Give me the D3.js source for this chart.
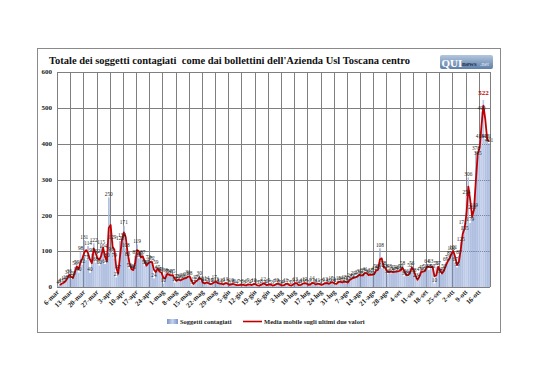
<!DOCTYPE html>
<html><head><meta charset="utf-8">
<script src="https://cdn.jsdelivr.net/npm/d3@7"></script>
<style>
html,body{margin:0;padding:0;background:#fff;}
svg{display:block;}
text{font-family:"Liberation Serif","DejaVu Serif",serif;}
</style></head>
<body>
<svg id="chart" width="538" height="380"></svg>
<script>
// ---- data ----
const titleText = "Totale dei soggetti contagiati  come dai bollettini dell'Azienda Usl Toscana centro";
const startDay = new Date(2020, 2, 6);
const endDay = new Date(2020, 9, 22);
const monthNames = ["gen","feb","mar","apr","mag","giu","lug","ago","set","ott","nov","dic"];
const days = d3.timeDay.range(startDay, endDay);
const categories = days.map(d => d.getDate() + "-" + monthNames[d.getMonth()]);
const tickLabels = ["6-mar","13-mar","20-mar","27-mar","3-apr","10-apr","17-apr","24-apr","1-mag","8-mag","15-mag","22-mag","29-mag","5-giu","12-giu","19-giu","26-giu","3-lug","10-lug","17-lug","24-lug","31-lug","7-ago","14-ago","21-ago","28-ago","4-set","11-set","18-set","25-set","2-ott","9-ott","16-ott"];
const yTicks = [0,100,200,300,400,500,600];
const contagiati = [
  4, 8, 10, 14, 18, 31, 36,
  22, 28, 56, 59, 40, 98, 62,
  131, 75, 114, 40, 93, 122, 68,
  92, 60, 115, 104, 64, 80, 250,
  96, 129, 79, 27, 47, 128, 134,
  171, 108, 83, 51, 49, 45, 87,
  119, 80, 85, 87, 59, 60, 73,
  67, 72, 24, 59, 45, 40, 41,
  10, 38, 35, 34, 31, 35, 12,
  22, 20, 17, 25, 22, 27, 31,
  28, 5, 12, 17, 19, 30, 16,
  8, 12, 14, 6, 10, 9, 17,
  13, 8, 11, 6, 9, 13, 7,
  5, 10, 8, 6, 4, 7, 5,
  8, 3, 6, 9, 4, 7, 10,
  6, 3, 5, 8, 12, 4, 6,
  9, 5, 3, 7, 10, 8, 5,
  4, 6, 11, 7, 3, 5, 9,
  13, 6, 4, 8, 10, 12, 7,
  5, 9, 14, 6, 8, 11, 5,
  7, 9, 13, 8, 10, 15, 12,
  7, 11, 16, 14, 12, 18, 10,
  15, 24, 22, 29, 25, 33, 35,
  28, 37, 41, 36, 31, 38, 30,
  42, 50, 45, 108, 52, 58, 48,
  36, 48, 38, 45, 40, 46, 42,
  50, 58, 30, 36, 29, 52, 56,
  38, 23, 17, 41, 45, 40, 50,
  64, 48, 63, 50, 10, 56, 57,
  35, 40, 50, 69, 73, 85, 100,
  101, 67, 55, 87, 125, 171, 155,
  254, 306, 179, 213, 219, 378, 365,
  413, 490, 522, 413, 411, 401
];
const legendLabels = ["Soggetti contagiati", "Media mobile sugli ultimi due valori"];

// ---- drawing ----
const svg = d3.select("#chart");
const plot = {left: 57, right: 490, top: 72, bottom: 287};

const x = d3.scaleBand().domain(categories).range([plot.left, plot.right])
  .paddingInner(0.3).paddingOuter(0.15);
const y = d3.scaleLinear().domain([0, 600]).range([plot.bottom, plot.top]);
const step = x.step();
const boundary = i => plot.left + i * step;

// outer frame
svg.append("rect").attr("x", 37.5).attr("y", 48.5).attr("width", 463).attr("height", 284)
  .attr("fill", "#fff").attr("stroke", "#8a8a8a").attr("stroke-width", 1);

// gradient for bars
const defs = svg.append("defs");
const grad = defs.append("linearGradient").attr("id", "barGrad").attr("x1", 0).attr("x2", 1).attr("y1", 0).attr("y2", 0);
grad.append("stop").attr("offset", "0%").attr("stop-color", "#7b93c8");
grad.append("stop").attr("offset", "50%").attr("stop-color", "#c6d3ef");
grad.append("stop").attr("offset", "100%").attr("stop-color", "#7b93c8");

// horizontal gridlines
svg.append("g").selectAll("line").data(yTicks).join("line")
  .attr("x1", plot.left).attr("x2", plot.right)
  .attr("y1", d => Math.round(y(d)) + 0.5).attr("y2", d => Math.round(y(d)) + 0.5)
  .attr("stroke", "#7f7f7f").attr("stroke-width", 1);

// vertical gridlines every 7 categories
const vIdx = d3.range(0, categories.length + 1, 7).concat([categories.length]);
svg.append("g").selectAll("line").data(vIdx).join("line")
  .attr("x1", d => Math.round(boundary(d)) + 0.5).attr("x2", d => Math.round(boundary(d)) + 0.5)
  .attr("y1", plot.top).attr("y2", plot.bottom)
  .attr("stroke", "#7f7f7f").attr("stroke-width", 1);

// y labels
svg.append("g").selectAll("text").data(yTicks).join("text")
  .attr("x", 52).attr("y", d => y(d) + 2.3)
  .attr("text-anchor", "end").attr("font-size", 7).attr("font-weight", "bold").attr("fill", "#222")
  .text(d => d);

// bars
svg.append("g").selectAll("rect").data(contagiati).join("rect")
  .attr("x", (d, i) => x(categories[i]))
  .attr("width", x.bandwidth())
  .attr("y", d => y(d))
  .attr("height", d => y(0) - y(d))
  .attr("fill", "url(#barGrad)");

// moving average (period 2)
const ma = contagiati.map((v, i) => i === 0 ? null : (v + contagiati[i - 1]) / 2);
const line = d3.line()
  .defined(d => d !== null)
  .x((d, i) => x(categories[i]) + x.bandwidth() / 2)
  .y(d => y(d));
svg.append("path").datum(ma).attr("d", line)
  .attr("fill", "none").attr("stroke", "#c00000").attr("stroke-width", 1.8).attr("stroke-linejoin", "round");

// data labels
const maxVal = d3.max(contagiati);
svg.append("g").selectAll("text").data(contagiati).join("text")
  .attr("x", (d, i) => x(categories[i]) + x.bandwidth() / 2)
  .attr("y", d => d === maxVal ? y(d) - 5 : y(d) - 1.5)
  .attr("text-anchor", "middle")
  .attr("font-size", d => d === maxVal ? 7 : 5.3)
  .attr("font-weight", d => d === maxVal ? "bold" : "normal")
  .attr("fill", d => d === maxVal ? "#c00000" : "#222")
  .text(d => d);

// x axis labels
const xl = svg.append("g");
tickLabels.forEach(lbl => {
  const cx = x(lbl) + x.bandwidth() / 2;
  xl.append("text")
    .attr("transform", `translate(${cx + 1.5},${plot.bottom + 5.5}) rotate(-45)`)
    .attr("text-anchor", "end").attr("font-size", 7).attr("font-weight", "bold").attr("fill", "#222")
    .text(lbl);
});

// title
svg.append("text").attr("x", 49).attr("y", 64)
  .attr("font-size", 10).attr("font-weight", "bold").attr("fill", "#111")
  .attr("textLength", 361).attr("lengthAdjust", "spacingAndGlyphs")
  .style("white-space", "pre")
  .text(titleText);

// logo
const logo = svg.append("g");
const lg = defs.append("linearGradient").attr("id", "logoGrad").attr("x1", 0).attr("x2", 0).attr("y1", 0).attr("y2", 1);
lg.append("stop").attr("offset", "0%").attr("stop-color", "#b3c6de");
lg.append("stop").attr("offset", "100%").attr("stop-color", "#5f7fa8");
logo.append("rect").attr("x", 440).attr("y", 55).attr("width", 53).attr("height", 14).attr("rx", 2)
  .attr("fill", "url(#logoGrad)");
logo.append("text").attr("x", 441.5).attr("y", 66.5).attr("font-family", "Liberation Sans, Arial, sans-serif")
  .attr("font-size", 11).attr("font-weight", "bold").attr("fill", "#fff").text("QUI");
logo.append("text").attr("x", 462).attr("y", 66).attr("font-family", "Liberation Sans, Arial, sans-serif")
  .attr("font-size", 7).attr("font-weight", "bold").attr("fill", "#1d3557").text("news");
logo.append("text").attr("x", 480).attr("y", 66).attr("font-family", "Liberation Sans, Arial, sans-serif")
  .attr("font-size", 6).attr("fill", "#e3ebf5").text(".net");

// legend
const leg = svg.append("g");
leg.append("rect").attr("x", 167).attr("y", 319).attr("width", 11).attr("height", 5).attr("fill", "url(#barGrad)");
leg.append("text").attr("x", 180).attr("y", 324).attr("font-size", 6.5).attr("font-weight", "bold").attr("fill", "#222").text(legendLabels[0]);
leg.append("line").attr("x1", 243).attr("x2", 262).attr("y1", 321.5).attr("y2", 321.5).attr("stroke", "#c00000").attr("stroke-width", 1.6);
leg.append("text").attr("x", 264).attr("y", 324).attr("font-size", 6.5).attr("font-weight", "bold").attr("fill", "#222").text(legendLabels[1]);
</script>
</body></html>
